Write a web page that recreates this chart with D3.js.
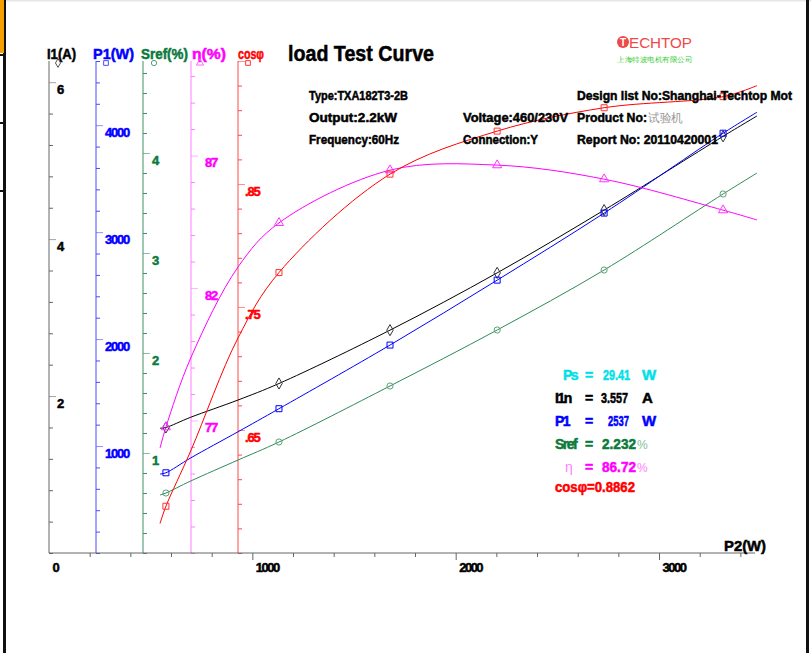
<!DOCTYPE html>
<html>
<head>
<meta charset="utf-8">
<script src="https://cdn.jsdelivr.net/npm/d3@7"></script>
<style>
body { margin: 0; background: #fff; }
svg { display: block; font-family: "Liberation Sans", Arial, sans-serif; }
</style>
</head>
<body>
<div id="chart"></div>
<script>
// test points, P2 in W
let p2Test = [575, 1131, 1677, 2204, 2730, 3315];
let iTest = [1.60, 2.16, 2.84, 3.57, 4.37, 5.31];
let p1Test = [750, 1349, 1944, 2551, 3178, 3925];
let srefTest = [0.60, 1.11, 1.67, 2.23, 2.83, 3.59];
let effTest = [76.75, 84.46, 86.45, 86.64, 86.11, 84.94];
let cosTest = [0.588, 0.778, 0.858, 0.893, 0.912, 0.921];

// fitted curves
let p2Curve = [546, 575, 697, 930, 1131, 1677, 2204, 2730, 3315, 3482];
let iCurve = [1.59, 1.60, 1.73, 1.95, 2.16, 2.84, 3.57, 4.37, 5.31, 5.57];
let p1Curve = [738, 750, 889, 1134, 1349, 1944, 2551, 3178, 3925, 4121];
let srefCurve = [0.58, 0.60, 0.72, 0.93, 1.11, 1.67, 2.23, 2.83, 3.59, 3.80];
let effCurve = [75.96, 76.75, 79.36, 82.80, 84.46, 86.45, 86.64, 86.11, 84.94, 84.57];
let cosCurve = [0.574, 0.588, 0.633, 0.725, 0.778, 0.858, 0.893, 0.912, 0.921, 0.930];

// ticks
let xMajor = [0, 1000, 2000, 3000];
let iMajor = [2, 4, 6];
let p1Major = [1000, 2000, 3000, 4000];
let srefMajor = [1, 2, 3, 4];
let effMajor = [77, 82, 87];
let cosMajor = [0.65, 0.75, 0.85, 0.95];

// rated values
let ratedRows = [
    {name: "Ps", val: "29.41", unit: "W", col: "#00e0e8"},
    {name: "I1n", val: "3.557", unit: "A", col: "#000"},
    {name: "P1", val: "2537", unit: "W", col: "#0000ff"},
    {name: "Sref", val: "2.232", unit: "%", col: "#0b7a3c"},
    {name: "\u03b7", val: "86.72", unit: "%", col: "#ff00ff"}
];
let cosRated = "cos\u03c6=0.8862";

let W = 811, H = 653;
let y0 = 553, yTop = 61;

let svg = d3.select("#chart")
            .append("svg")
            .attr("width", W)
            .attr("height", H);

// window frame
svg.append("rect").attr("x", 0).attr("y", 0).attr("width", W).attr("height", 1.5).attr("fill", "#e6e6e6");
svg.append("rect").attr("x", 3).attr("y", 0).attr("width", 3).attr("height", H).attr("fill", "#111");
svg.append("rect").attr("x", 0).attr("y", 0).attr("width", 4).attr("height", 53).attr("fill", "#f5a000");
svg.append("rect").attr("x", 806).attr("y", 0).attr("width", 3).attr("height", H).attr("fill", "#111");
[54, 122, 190].forEach(yy => {
    svg.append("rect").attr("x", 0).attr("y", yy).attr("width", 6).attr("height", 2).attr("fill", "#111");
});

let x = d3.scaleLinear().domain([0, 3472]).range([49, 755]);
let yI = d3.scaleLinear().domain([0, 6.27]).range([y0, yTop]);
let yP1 = d3.scaleLinear().domain([0, 4600]).range([y0, yTop]);
let yS = d3.scaleLinear().domain([0, 4.92]).range([y0, yTop]);
let yE = d3.scaleLinear().domain([72, 90.57]).range([y0, yTop]);
let yC = d3.scaleLinear().domain([0.55, 0.95]).range([y0, yTop]);

// heavy, squeezed lettering like the original
function heavy(sel, col) {
    return sel.attr("stroke", col).attr("stroke-width", 0.5).attr("paint-order", "stroke");
}

function txt(xx, yy, s, size, col, len, weight) {
    let t = svg.append("text")
        .attr("x", xx)
        .attr("y", yy)
        .attr("fill", col)
        .style("font-size", size + "px")
        .style("font-weight", weight || "bold")
        .text(s);
    if (len) t.attr("textLength", len).attr("lengthAdjust", "spacingAndGlyphs");
    if (!weight) heavy(t, col);
    return t;
}

function yAxis(scale, xx, col, lineCol, majors, step, fmt, dx) {
    let d = scale.domain();
    let minors = d3.range(d[0], d[1] + 1e-9, step).filter(v => !majors.some(m => Math.abs(m - v) < 1e-6));
    let g = svg.append("g").attr("transform", "translate(" + xx + ",0)");
    g.append("g")
        .call(d3.axisRight(scale).tickValues(minors).tickSize(4).tickFormat(""))
        .call(a => a.select(".domain").remove())
        .selectAll("line").attr("stroke", lineCol);
    let m = g.append("g")
        .call(d3.axisRight(scale).tickValues(majors).tickSize(7).tickFormat(fmt))
        .call(a => a.select(".domain").remove());
    m.selectAll("line").attr("stroke", lineCol).attr("stroke-opacity", 0.6);
    let t = m.selectAll("text")
        .attr("x", dx)
        .attr("dy", "0.85em")
        .attr("fill", col)
        .style("font-size", "13px")
        .style("font-weight", "bold")
        .style("letter-spacing", "-1.2px");
    heavy(t, col);
    g.append("line")
        .attr("x1", 0).attr("x2", 0)
        .attr("y1", scale.range()[0]).attr("y2", scale.range()[1])
        .attr("stroke", lineCol);
}

yAxis(yI, 49, "#000", "#666", iMajor, 0.4, d3.format("d"), 8);
yAxis(yP1, 96, "#0000ff", "#4a4aff", p1Major, 200, d3.format("d"), 9);
yAxis(yS, 143, "#0b7a3c", "#3f9268", srefMajor, 0.2, d3.format("d"), 9);
yAxis(yE, 191, "#ff00ff", "#ff80ff", effMajor, 1, d3.format("d"), 14);
yAxis(yC, 238, "#ff0000", "#ff4848", cosMajor, 0.02,
      d => d > 0.9 ? "" : d3.format(".2f")(d).replace(/^0/, ""), 7);

// bottom axis
let xg = svg.append("g").attr("transform", "translate(0," + y0 + ")");
let xMinor = d3.range(200, 3472, 200).filter(v => v % 1000 !== 0);
xg.append("g")
    .call(d3.axisBottom(x).tickValues(xMinor).tickSize(4).tickFormat(""))
    .call(a => a.select(".domain").remove())
    .selectAll("line").attr("stroke", "#666");
let xt = xg.append("g")
    .call(d3.axisBottom(x).tickValues(xMajor).tickSize(7).tickFormat(d3.format("d")))
    .call(a => a.select(".domain").remove())
    .call(a => a.selectAll("line").attr("stroke", "#666").filter(d => d === 0).remove())
    .selectAll("text")
    .attr("text-anchor", "start")
    .attr("x", 3)
    .attr("y", 19)
    .attr("dy", null)
    .attr("fill", "#000")
    .style("font-size", "13px")
    .style("font-weight", "bold")
    .style("letter-spacing", "-1.5px");
heavy(xt, "#000");
xg.append("line").attr("x1", x(0)).attr("x2", 755).attr("stroke", "#666");

// curves and test points
let series = [
    {y: yI, curve: iCurve, test: iTest, col: "#000", mcol: "#333", sym: d3.symbolDiamond},
    {y: yP1, curve: p1Curve, test: p1Test, col: "#0000ff", mcol: "#0000ff", sym: d3.symbolSquare},
    {y: yS, curve: srefCurve, test: srefTest, col: "#2e8b57", mcol: "#5aa37a", sym: d3.symbolCircle},
    {y: yE, curve: effCurve, test: effTest, col: "#ff00ff", mcol: "#ff33ff", sym: d3.symbolTriangle},
    {y: yC, curve: cosCurve, test: cosTest, col: "#ff0000", mcol: "#ff3333", sym: d3.symbolSquare}
];

series.forEach(s => {
    let line = d3.line()
        .x((d, i) => x(p2Curve[i]))
        .y(d => s.y(d))
        .curve(d3.curveCatmullRom.alpha(0.5));
    svg.append("path")
        .attr("d", line(s.curve))
        .attr("fill", "none")
        .attr("stroke", s.col)
        .attr("stroke-width", 1);
    svg.append("g").selectAll("path")
        .data(s.test)
        .enter()
        .append("path")
        .attr("transform", (d, i) => "translate(" + x(p2Test[i]) + "," + s.y(d) + ")")
        .attr("d", d3.symbol().type(s.sym).size(s.sym === d3.symbolCircle ? 30 : 36))
        .attr("fill", "none")
        .attr("stroke", s.mcol)
        .attr("stroke-width", 1);
});

// axis headers with their marker
let heads = [
    {t: "I1(A)", x: 47, len: 29, col: "#000", mx: 58, sym: d3.symbolDiamond, mcol: "#555"},
    {t: "P1(W)", x: 93, len: 41, col: "#0000ff", mx: 106, sym: d3.symbolSquare, mcol: "#4a4aff"},
    {t: "Sref(%)", x: 141, len: 47, col: "#0b7a3c", mx: 154, sym: d3.symbolCircle, mcol: "#5aa37a"},
    {t: "\u03b7(%)", x: 192, len: 34, col: "#ff00ff", mx: 200, sym: d3.symbolTriangle, mcol: "#ff66ff"},
    {t: "cos\u03c6", x: 238, len: 26, col: "#ff0000", mx: 248, sym: d3.symbolSquare, mcol: "#ff3333"}
];
heads.forEach(h => {
    txt(h.x, 59, h.t, 15, h.col, h.len);
    svg.append("path")
        .attr("transform", "translate(" + h.mx + ",63)")
        .attr("d", d3.symbol().type(h.sym).size(22))
        .attr("fill", "none")
        .attr("stroke", h.mcol);
});

// title
txt(288, 61, "load Test Curve", 22, "#000", 146);

// logo
svg.append("circle").attr("cx", 623).attr("cy", 42).attr("r", 6).attr("fill", "#f04848");
txt(620, 46, "T", 10, "#fff", null, "bold");
txt(629, 48, "ECHTOP", 15, "#f04848", 63, "normal");
txt(617, 62, "\u4e0a\u6d77\u7279\u6ce2\u7535\u673a\u6709\u9650\u516c\u53f8", 7, "#33cc33", 75, "normal");

// motor info
txt(309, 100, "Type:TXA182T3-2B", 13, "#000", 99);
txt(309, 122, "Output:2.2kW", 13, "#000", 88);
txt(309, 144, "Frequency:60Hz", 13, "#000", 90);
txt(463, 122, "Voltage:460/230V", 13, "#000", 105);
txt(463, 144, "Connection:Y", 13, "#000", 75);
txt(577, 100, "Design list No:Shanghai-Techtop Mot", 13, "#000", 215);
txt(577, 122, "Product No:", 13, "#000", 70);
txt(648, 122, "\u8bd5\u9a8c\u673a", 12, "#999", 35, "normal");
txt(577, 144, "Report No: 20110420001", 13, "#000", 141);

// rated point values
let valX = [603, 601, 608, 602, 602];
let valLen = [27, 27, 21, 34, 34];
ratedRows.forEach((r, i) => {
    let yy = 380 + i * 23;
    let nx = r.name === "Ps" ? 563 : (r.name === "\u03b7" ? 565 : 555);
    if (r.name === "\u03b7") {
        txt(nx, yy, r.name, 14, "#ff80ff", null, "normal");
    } else {
        txt(nx, yy, r.name, 14, r.col).style("letter-spacing", "-1.5px");
    }
    txt(585, yy, "=", 14, r.col);
    txt(valX[i], yy, r.val, 14, r.col, valLen[i]);
    if (r.unit === "%") {
        txt(637, yy, "%", 12, r.name === "Sref" ? "#7fbf9a" : "#ff80ff", null, "normal");
    } else {
        txt(642, yy, r.unit, 15, r.col);
    }
});
txt(555, 492, cosRated, 14, "#ff0000", 80);

// x title
txt(724, 551, "P2(W)", 14, "#000", 42);
</script>
</body>
</html>
